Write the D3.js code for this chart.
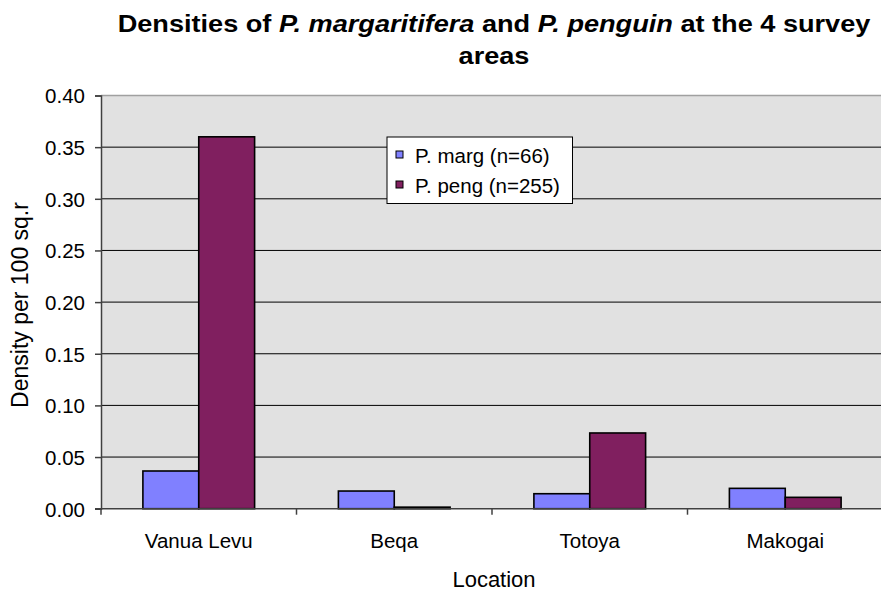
<!DOCTYPE html>
<html>
<head>
<meta charset="utf-8">
<script src="https://d3js.org/d3.v7.min.js"></script>
<style>
  body { margin: 0; background: #fff; }
  svg text { font-family: "Liberation Sans", Arial, sans-serif; fill: #000; }
</style>
</head>
<body>
<div class="chart"></div>
<script>
var locations = ["Vanua Levu", "Beqa", "Totoya", "Makogai"];
var series_names = ["P. marg (n=66)", "P. peng (n=255)"];
var marg_values = [0.0365, 0.0171, 0.0145, 0.0197];
var peng_values = [0.360, 0.0015, 0.0733, 0.011];
var y_ticks = [0, 0.05, 0.10, 0.15, 0.20, 0.25, 0.30, 0.35, 0.40];
var colors = ["#8080ff", "#801f5f"];

var width = 881, height = 592;
var plot_left = 101, plot_right = 883, plot_top = 95.5, plot_bottom = 508.7;

var svg = d3.select(".chart").append("svg")
	.attr("width", width)
	.attr("height", height);

var xScale = d3.scaleBand()
	.domain(locations)
	.range([plot_left, plot_right]);

var yScale = d3.scaleLinear()
	.domain([0, 0.40])
	.range([plot_bottom, plot_top]);

// gap width 150% like excel
var bar_w = xScale.bandwidth() / 3.5;

// plot background
svg.append("rect")
	.attr("x", plot_left)
	.attr("y", plot_top)
	.attr("width", plot_right - plot_left)
	.attr("height", plot_bottom - plot_top)
	.attr("fill", "#e1e1e1");
svg.append("line")
	.attr("x1", plot_left).attr("x2", plot_right)
	.attr("y1", plot_top).attr("y2", plot_top)
	.attr("stroke", "#a0a0a0").attr("stroke-width", 1.5);

// gridlines
svg.append("g").selectAll("line")
	.data(y_ticks.filter(function (d) { return d > 0 && d < 0.4; }))
	.enter().append("line")
	.attr("x1", plot_left).attr("x2", plot_right)
	.attr("y1", function (d) { return yScale(d); })
	.attr("y2", function (d) { return yScale(d); })
	.attr("stroke", "#000").attr("stroke-width", 1);

// bars
var data = locations.map(function (loc, i) { return [marg_values[i], peng_values[i]]; });
var groups = svg.append("g").selectAll("g")
	.data(data)
	.enter().append("g")
	.attr("transform", function (d, i) { return "translate(" + (xScale(locations[i]) + xScale.bandwidth() / 2) + ",0)"; });
groups.selectAll("rect")
	.data(function (d) { return d; })
	.enter().append("rect")
	.attr("x", function (d, j) { return (j - 1) * bar_w; })
	.attr("y", function (d) { return yScale(d); })
	.attr("width", bar_w)
	.attr("height", function (d) { return plot_bottom - yScale(d); })
	.attr("fill", function (d, j) { return colors[j]; })
	.attr("stroke", "#000")
	.attr("stroke-width", 1.6);

// y axis
var yAxis = d3.axisLeft(yScale)
	.tickValues(y_ticks)
	.tickFormat(d3.format(".2f"))
	.tickSize(6)
	.tickPadding(10);
var gy = svg.append("g")
	.attr("transform", "translate(" + plot_left + ",0)")
	.call(yAxis);
gy.select(".domain").attr("stroke", "#404040").attr("stroke-width", 1.5);
gy.selectAll(".tick line").attr("stroke", "#404040").attr("stroke-width", 1.5);
gy.selectAll("text").style("font-size", "20.5px").attr("font-family", null).attr("dy", "0.36em");

// x axis
var gx = svg.append("g")
	.attr("transform", "translate(0," + plot_bottom + ")");
gx.append("line")
	.attr("x1", plot_left - 6).attr("x2", plot_right)
	.attr("stroke", "#404040").attr("stroke-width", 1.5);
gx.selectAll(".xtick")
	.data(locations.concat(["end"]))
	.enter().append("line")
	.attr("x1", function (d, i) { return plot_left + i * xScale.bandwidth(); })
	.attr("x2", function (d, i) { return plot_left + i * xScale.bandwidth(); })
	.attr("y1", 0).attr("y2", 6)
	.attr("stroke", "#404040").attr("stroke-width", 1.5);
gx.selectAll(".xlabel")
	.data(locations)
	.enter().append("text")
	.attr("x", function (d) { return xScale(d) + xScale.bandwidth() / 2; })
	.attr("y", 39.6)
	.attr("text-anchor", "middle")
	.style("font-size", "20.5px")
	.text(function (d) { return d; });

// axis titles
svg.append("text")
	.attr("x", 494).attr("y", 587)
	.attr("text-anchor", "middle")
	.style("font-size", "22px")
	.text("Location");
svg.append("text")
	.attr("transform", "translate(28,305) rotate(-90)")
	.attr("text-anchor", "middle")
	.style("font-size", "23px")
	.text("Density per 100 sq.r");

// title (stretched sideways like the reference)
var title = svg.append("text")
	.attr("transform", "translate(494,32) scale(1.18,1)")
	.attr("text-anchor", "middle")
	.style("font-size", "23px")
	.style("font-weight", "bold");
[["Densities of ", false], ["P. margaritifera", true], [" and ", false], ["P. penguin", true], [" at the 4 survey", false]]
	.forEach(function (p) {
		title.append("tspan").style("font-style", p[1] ? "italic" : "normal").text(p[0]);
	});
svg.append("text")
	.attr("transform", "translate(494,64) scale(1.18,1)")
	.attr("text-anchor", "middle")
	.style("font-size", "23px")
	.style("font-weight", "bold")
	.text("areas");

// legend
var legend = svg.append("g").attr("transform", "translate(387,137)");
legend.append("rect")
	.attr("width", 185.5).attr("height", 66.5)
	.attr("fill", "#fff").attr("stroke", "#000").attr("stroke-width", 1);
var items = legend.selectAll(".item")
	.data(series_names)
	.enter().append("g")
	.attr("transform", function (d, i) { return "translate(9," + (14 + i * 30) + ")"; });
items.append("rect")
	.attr("width", 7).attr("height", 7)
	.attr("fill", function (d, i) { return colors[i]; })
	.attr("stroke", "#000").attr("stroke-width", 1);
items.append("text")
	.attr("x", 19).attr("y", 11.5)
	.style("font-size", "20.5px")
	.text(function (d) { return d; });
</script>
</body>
</html>
